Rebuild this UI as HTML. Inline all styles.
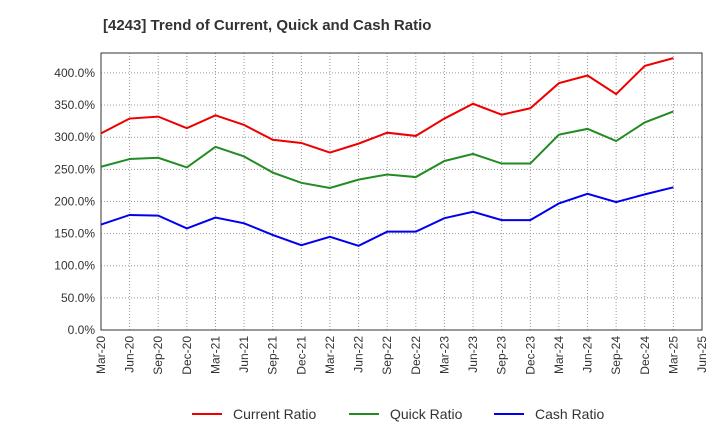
<!DOCTYPE html>
<html><head><meta charset="utf-8"><style>
body{margin:0;background:#fff;font-family:"Liberation Sans",sans-serif;}
svg text{font-family:"Liberation Sans",sans-serif;}
</style></head><body>
<svg id="c" width="720" height="440" xmlns="http://www.w3.org/2000/svg">
<text x="103" y="30" font-size="15" font-weight="bold" fill="#333">[4243]  Trend of Current, Quick and Cash Ratio</text>
<g id="grid"></g><g id="axes"></g><g id="series"></g>
<g>
<line x1="192" y1="414" x2="222" y2="414" stroke="#e00" stroke-width="2"/><text x="233" y="419" font-size="14" fill="#333">Current Ratio</text>
<line x1="349" y1="414" x2="379" y2="414" stroke="#228b22" stroke-width="2"/><text x="390" y="419" font-size="14" fill="#333">Quick Ratio</text>
<line x1="494" y1="414" x2="524" y2="414" stroke="#00e" stroke-width="2"/><text x="535" y="419" font-size="14" fill="#333">Cash Ratio</text>
</g>
</svg>
<script>
const xLabels=["Mar-20","Jun-20","Sep-20","Dec-20","Mar-21","Jun-21","Sep-21","Dec-21","Mar-22","Jun-22","Sep-22","Dec-22","Mar-23","Jun-23","Sep-23","Dec-23","Mar-24","Jun-24","Sep-24","Dec-24","Mar-25","Jun-25"];
const yTicks=[0,50,100,150,200,250,300,350,400];
const currentRatio=[306,329,332,314,334,319,296,291,276,290,307,302,329,352,335,345,384,396,367,411,423];
const quickRatio=[254,266,268,253,285,270,245,229,221,234,242,238,263,274,259,259,304,313,294,323,340];
const cashRatio=[164,179,178,158,175,166,148,132,145,131,153,153,174,184,171,171,197,212,199,211,222];
const L=101,R=702,T=53,B=330,YMAX=431;
const NS="http://www.w3.org/2000/svg";
const x=i=>L+i*(R-L)/(xLabels.length-1);
const y=v=>B-v*(B-T)/YMAX;
function mk(tag,attrs,parent){const e=document.createElementNS(NS,tag);for(const k in attrs)e.setAttribute(k,attrs[k]);document.getElementById(parent).appendChild(e);return e;}
mk('rect',{x:L,y:T,width:R-L,height:B-T,fill:'none',stroke:'#333'},'axes');
yTicks.forEach(v=>{
  const g=mk('line',{x1:L,x2:R,y1:y(v),y2:y(v),stroke:'#999','stroke-dasharray':'1,2'},'grid');
  
  
  const t=mk('text',{x:L-6,y:y(v)+4,'font-size':12,fill:'#333','text-anchor':'end'},'axes');
  t.textContent=v.toFixed(1)+'%';
  
  
});
xLabels.forEach((s,i)=>{
  const g=mk('line',{x1:x(i),x2:x(i),y1:T,y2:B,stroke:'#999','stroke-dasharray':'1,2'},'grid');
  
  
  const t=mk('text',{transform:`translate(${x(i)+4},${B+6}) rotate(-90)`,'font-size':12,fill:'#333','text-anchor':'end'},'axes');
  t.textContent=s;
  
  
});
[[currentRatio,'#e00','current-ratio-line'],[quickRatio,'#228b22','quick-ratio-line'],[cashRatio,'#00e','cash-ratio-line']].forEach(([d,c,n])=>{
  const p=mk('polyline',{points:d.map((v,i)=>x(i)+','+y(v)).join(' '),fill:'none',stroke:c,'stroke-width':2},'series');
  
  
});
</script>
</body></html>
